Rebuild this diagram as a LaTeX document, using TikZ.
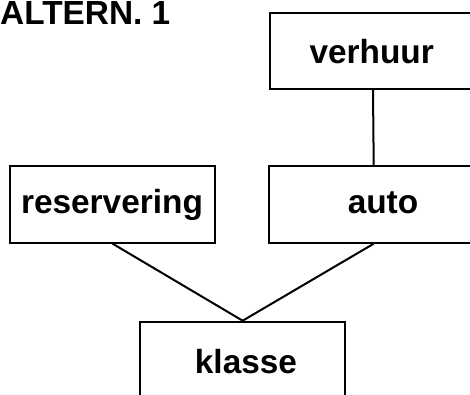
\documentclass[tikz,border=0pt]{standalone}
\usepackage{fontspec}
\setmainfont{Liberation Sans}
\begin{document}
\begin{tikzpicture}[x=1pt,y=-1pt,
  entity/.style={draw=black,line width=2pt,rectangle,inner sep=0pt,anchor=north west},
  caption/.style={anchor=base,inner sep=0pt,font=\fontsize{33.4}{40}\selectfont\bfseries},
  link/.style={draw=black,line width=2pt}]
\useasboundingbox (0,0) rectangle (470,394);
\begin{scope}
\clip (0,0) rectangle (470,394);
% entity boxes
\node[entity,minimum width=206pt,minimum height=76.3pt] (verhuur) at (269,11.7) {};
\node[entity,minimum width=209.4pt,minimum height=76.7pt] (auto) at (268,165) {};
\node[entity,minimum width=204.7pt,minimum height=76.7pt] (reservering) at (9.3,165) {};
\node[entity,minimum width=204.7pt,minimum height=90pt] (klasse) at (139.3,320.7) {};
% box captions
\node[caption] (tverhuur) at (371.7,63.3) {verhuur};
\node[caption] (tauto) at (383,213.3) {auto};
\node[caption] (treservering) at (112,213.3) {reservering};
\node[caption] (tklasse) at (246,373.3) {klasse};
% title
\node[caption,anchor=base west] (title) at (0,24.2) {ALTERN. 1};
% relationships
\draw[link] (verhuur.south) -- (auto.north);
\draw[link] (reservering.south) -- (klasse.north);
\draw[link] (auto.south) -- (klasse.north);
\end{scope}
\end{tikzpicture}
\end{document}
